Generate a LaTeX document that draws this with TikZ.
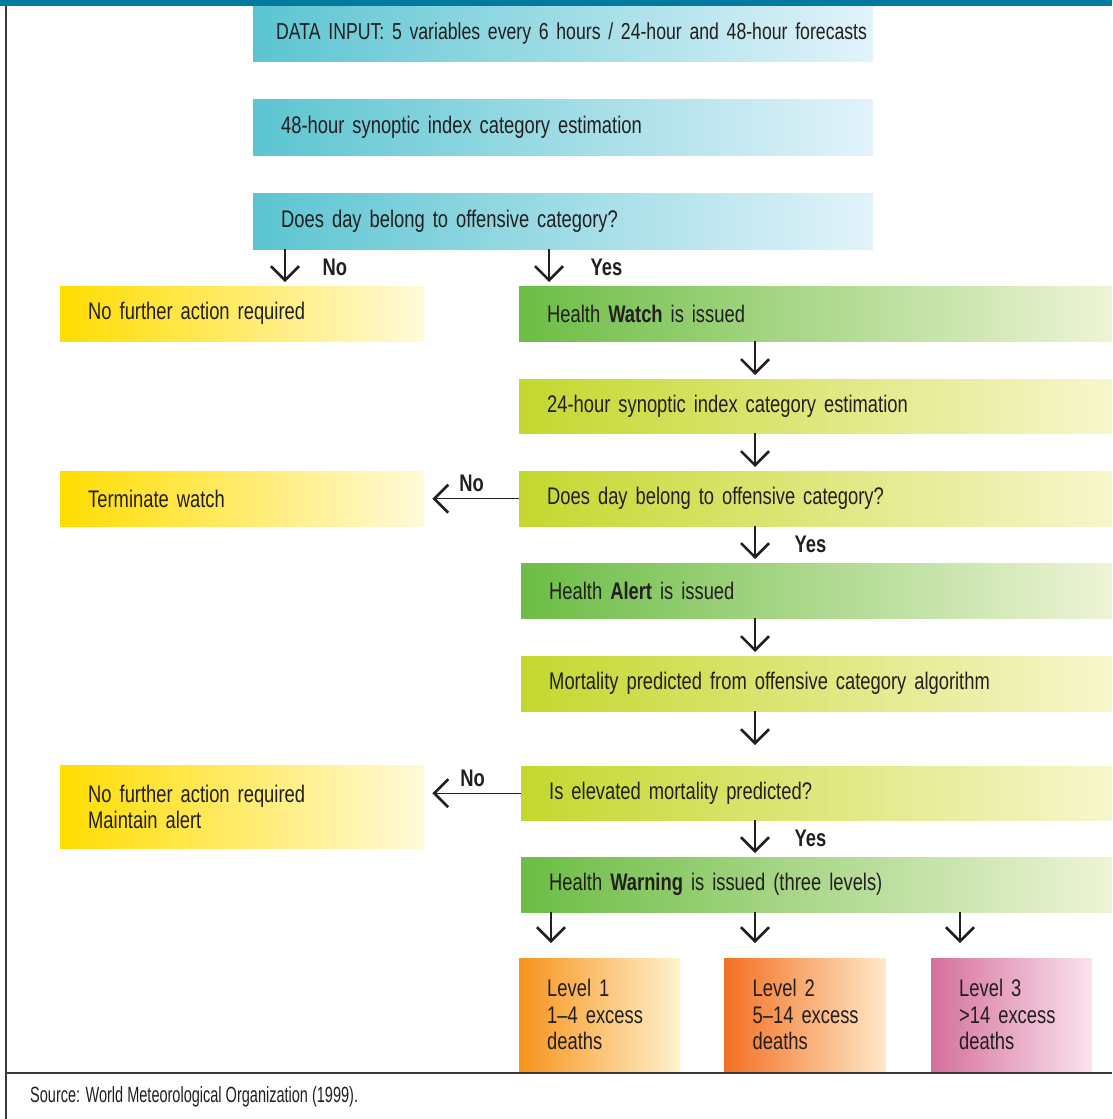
\documentclass[tikz,border=0pt]{standalone}
\usepackage{fontspec}
\setmainfont{Liberation Sans}[FakeStretch=0.765]
\newfontfamily\srcfont{Liberation Sans}[FakeStretch=0.66]
\usetikzlibrary{arrows.meta}

\definecolor{ink}{HTML}{231F20}
\definecolor{topbar}{HTML}{007A9E}
\definecolor{frameline}{HTML}{3A3A3A}
\definecolor{tealL}{HTML}{5BC5D1}
\definecolor{tealR}{HTML}{E2F3FA}
\definecolor{greenL}{HTML}{6CBD45}
\definecolor{greenR}{HTML}{EEF4D6}
\definecolor{limeL}{HTML}{C3D82E}
\definecolor{limeR}{HTML}{F8F6CC}
\definecolor{yellowL}{HTML}{FFDD00}
\definecolor{yellowR}{HTML}{FFFAD9}
\definecolor{lvlAL}{HTML}{F7941D}
\definecolor{lvlAR}{HTML}{FFF2CF}
\definecolor{lvlBL}{HTML}{F37022}
\definecolor{lvlBR}{HTML}{FFE9C9}
\definecolor{lvlCL}{HTML}{D6709B}
\definecolor{lvlCR}{HTML}{F9E3EE}

\tikzset{
  box/.style={rectangle, anchor=north west, inner xsep=28pt, inner ysep=0pt, align=left, text=ink, font=\fontsize{24}{26.5}\selectfont},
  tealbox/.style={box, left color=tealL, right color=tealR, minimum width=620pt, text width=564pt},
  yellowbox/.style={box, left color=yellowL, right color=yellowR, minimum width=364pt, text width=308pt},
  greenbox/.style={box, left color=greenL, right color=greenR, text width=#1},
  limebox/.style={box, left color=limeL, right color=limeR, text width=#1},
  levelbox/.style={box, minimum height=113pt, text width=105pt, yshift=2pt},
  flow/.style={draw=ink, line width=1.4pt, shorten >=4pt, -{Straight Barb[length=14pt,width=28pt,line width=2.6pt]}},
  lbl/.style={inner sep=0pt, text=ink, font=\fontsize{24}{26}\selectfont\bfseries}
}

\begin{document}
\begin{tikzpicture}[x=1pt,y=-1pt]
\useasboundingbox (0,0) rectangle (1112,1119);
\fill[topbar] (0,0) rectangle (1112,6);

\node[tealbox, minimum height=55pt, inner xsep=23pt, text width=574pt, font=\fontsize{23.1}{26}\selectfont] (input) at (253,6) {\mbox{DATA INPUT: 5 variables every 6 hours / 24-hour and 48-hour forecasts}};
\node[tealbox, minimum height=56pt] (synoptic48) at (253,99) {48-hour synoptic index category estimation};
\node[tealbox, minimum height=56pt] (ask48) at (253,193) {Does day belong to offensive category?};

\node[yellowbox, minimum height=55pt] (none1) at (60,286) {No further action required};
\node[greenbox=537pt, minimum width=593pt, minimum height=55pt] (watch) at (519,286) {Health \textbf{Watch} is issued};
\node[limebox=537pt, minimum width=593pt, minimum height=54pt] (synoptic24) at (519,379) {24-hour synoptic index category estimation};
\node[limebox=537pt, minimum width=593pt, minimum height=55pt] (ask24) at (519,471) {Does day belong to offensive category?};
\node[yellowbox, minimum height=55pt] (terminate) at (60,471) {Terminate watch};

\node[greenbox=535pt, minimum width=591pt, minimum height=55pt] (alert) at (521,563) {Health \textbf{Alert} is issued};
\node[limebox=535pt, minimum width=591pt, minimum height=55pt] (mortality) at (521,656) {Mortality predicted from offensive category algorithm};
\node[limebox=535pt, minimum width=591pt, minimum height=54pt] (elevated) at (521,766) {Is elevated mortality predicted?};
\node[yellowbox, minimum height=83pt] (none2) at (60,765) {No further action required\\Maintain alert};
\node[greenbox=535pt, minimum width=591pt, minimum height=55pt] (warning) at (521,857) {Health \textbf{Warning} is issued (three levels)};

\node[levelbox, left color=lvlAL, right color=lvlAR, minimum width=161pt] (level1) at (519,960) {Level 1\\\mbox{1--4 excess}\\deaths};
\node[levelbox, left color=lvlBL, right color=lvlBR, minimum width=162pt] (level2) at (724,960) {Level 2\\\mbox{5--14 excess}\\deaths};
\node[levelbox, left color=lvlCL, right color=lvlCR, minimum width=161pt] (level3) at (931,960) {Level 3\\\mbox{>14 excess}\\deaths};

\coordinate (spine) at (755,0);

\draw[flow] ([xshift=32pt]ask48.south west) -- node[lbl, right=37pt] {No} ([xshift=32pt]ask48.south west |- none1.north);
\draw[flow] ([xshift=30pt]watch.north west |- ask48.south) -- node[lbl, right=41pt] {Yes} ([xshift=30pt]watch.north west);
\draw[flow] (watch.south -| spine) -- (synoptic24.north -| spine);
\draw[flow] (synoptic24.south -| spine) -- (ask24.north -| spine);
\draw[flow, shorten >=8pt] (ask24.west) -- node[lbl, above=6pt] {No} (ask24.west -| terminate.east);
\draw[flow] (ask24.south -| spine) -- node[lbl, right=39pt] {Yes} (alert.north -| spine);
\draw[flow] (alert.south -| spine) -- (mortality.north -| spine);
\draw[flow, shorten >=21pt] (mortality.south -| spine) -- (elevated.north -| spine);
\draw[flow, shorten >=8pt] (elevated.west) -- node[lbl, above=6pt] {No} (elevated.west -| none2.east);
\draw[flow] (elevated.south -| spine) -- node[lbl, right=39pt] {Yes} (warning.north -| spine);
\draw[flow, shorten >=15pt] ([xshift=32pt]level1.north west |- warning.south) -- ([xshift=32pt]level1.north west);
\draw[flow, shorten >=15pt] ([xshift=31pt]level2.north west |- warning.south) -- ([xshift=31pt]level2.north west);
\draw[flow, shorten >=15pt] ([xshift=29pt]level3.north west |- warning.south) -- ([xshift=29pt]level3.north west);

\draw[frameline, line width=1.5pt] (6,6) -- (6,1119);
\draw[frameline, line width=1.2pt] (6,1073) -- (1112,1073);
\node[inner sep=0pt, anchor=west, text=ink, font=\srcfont\fontsize{22}{24}\selectfont] (source) at (30,1097) {Source: World Meteorological Organization (1999).};
\end{tikzpicture}
\end{document}
